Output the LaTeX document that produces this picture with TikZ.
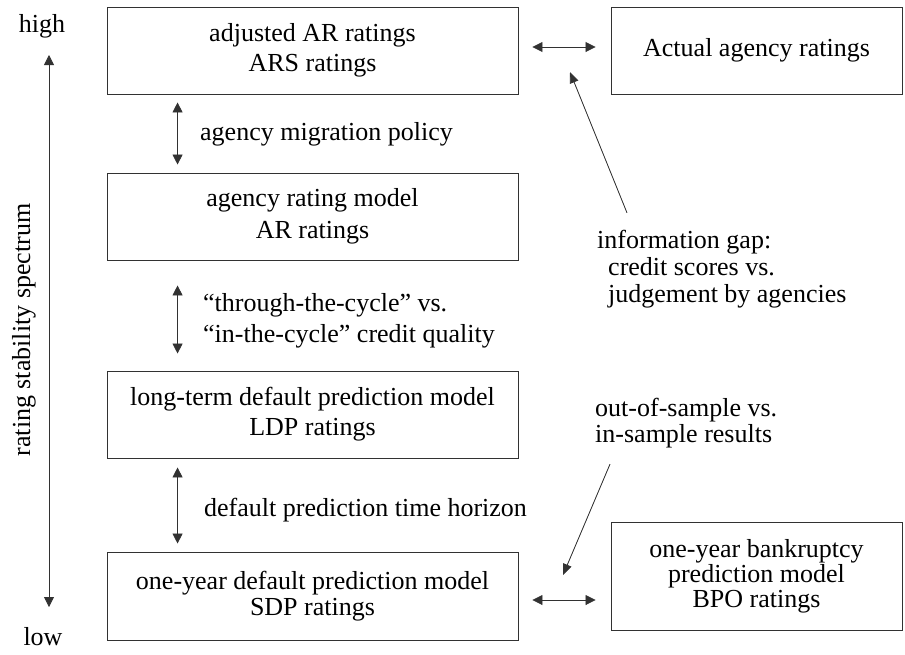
\documentclass[tikz,border=0pt]{standalone}
\usepackage{fontspec}
\setmainfont{Liberation Serif}
\usepackage{tikz}
\usetikzlibrary{arrows.meta,positioning,calc}
\definecolor{linegray}{RGB}{50,50,50}

\begin{document}
\begin{tikzpicture}[
    x=1pt, y=-1pt,
    rbox/.style={rectangle, draw=linegray, line width=0.9pt, minimum width=411pt, minimum height=87pt, align=center, inner sep=0pt},
    txt/.style={align=left, inner sep=0pt, anchor=west},
    fs/.style={font=\fontsize{26}{#1}\selectfont},
    arrow/.style={-{Triangle[length=11pt, width=9pt]}, line width=0.8pt, draw=linegray, fill=black},
    dblarrow/.style={{Triangle[length=10pt, width=10pt]}-{Triangle[length=10pt, width=10pt]}, line width=0.8pt, draw=linegray, fill=black}
]
\useasboundingbox (0,0) rectangle (905,654);

\node[rbox, fs=30] (ars) at (312.5, 50.5) {adjusted AR ratings\\ARS ratings};
\node[rbox, fs=32] (ar) at (312.5, 216.5) {agency rating model\\AR ratings};
\node[rbox, fs=30] (ldp) at (312.5, 414.5) {long-term default prediction model\\LDP ratings};
\node[rbox, fs=26, minimum height=88pt] (sdp) at (312.5, 596) {one-year default prediction model\\SDP ratings};
\node[rbox, fs=30, minimum width=291pt] (actual) at (756.5, 50.5) {Actual agency ratings};
\node[rbox, fs=25, minimum width=291pt, minimum height=108pt] (bpo) at (756.5, 576) {one-year bankruptcy\\prediction model\\BPO ratings};

\node[fs=30, inner sep=0pt] (high) at (42, 26) {high};
\node[fs=30, inner sep=0pt] (low) at (43, 637) {low};
\node[fs=30, inner sep=0pt, rotate=90] (spectrum) at (24, 330) {rating stability spectrum};
\coordinate (axtop) at (49, 55);
\coordinate (axbot) at (49, 607);
\draw[dblarrow] (axtop) -- (axbot);

\node[txt, fs=30] (migration) at (200, 134) {agency migration policy};
\node[txt, fs=31] (cycle) at (203, 321) {``through-the-cycle'' vs.\\``in-the-cycle'' credit quality};
\node[txt, fs=30] (horizon) at (204, 510) {default prediction time horizon};
\node[txt, fs=27] (infogap) at (597, 269) {information gap:\\\hspace*{11pt}credit scores vs.\\\hspace*{11pt}judgement by agencies};
\node[txt, fs=26] (outsample) at (595, 423) {out-of-sample vs.\\in-sample results};

\draw[dblarrow] ([shift={(71,8)}]ars.south west) -- ([shift={(71,-8)}]ar.north west);
\draw[dblarrow] ([shift={(71,25)}]ar.south west) -- ([shift={(71,-17)}]ldp.north west);
\draw[dblarrow] ([shift={(71,9)}]ldp.south west) -- ([shift={(71,-8)}]sdp.north west);
\draw[dblarrow] ([shift={(14,-3.5)}]ars.east) -- ([shift={(-15,-3.5)}]actual.west);
\draw[dblarrow] ([shift={(14,4)}]sdp.east) -- ([shift={(-15,4)}]sdp.east -| bpo.west);

\coordinate (gaptip) at (570, 72);
\coordinate (sampletip) at (563, 575);
\draw[arrow] ([shift={(30,-17)}]infogap.north west) -- (gaptip);
\draw[arrow] ([shift={(15,16)}]outsample.south west) -- (sampletip);
\end{tikzpicture}
\end{document}
